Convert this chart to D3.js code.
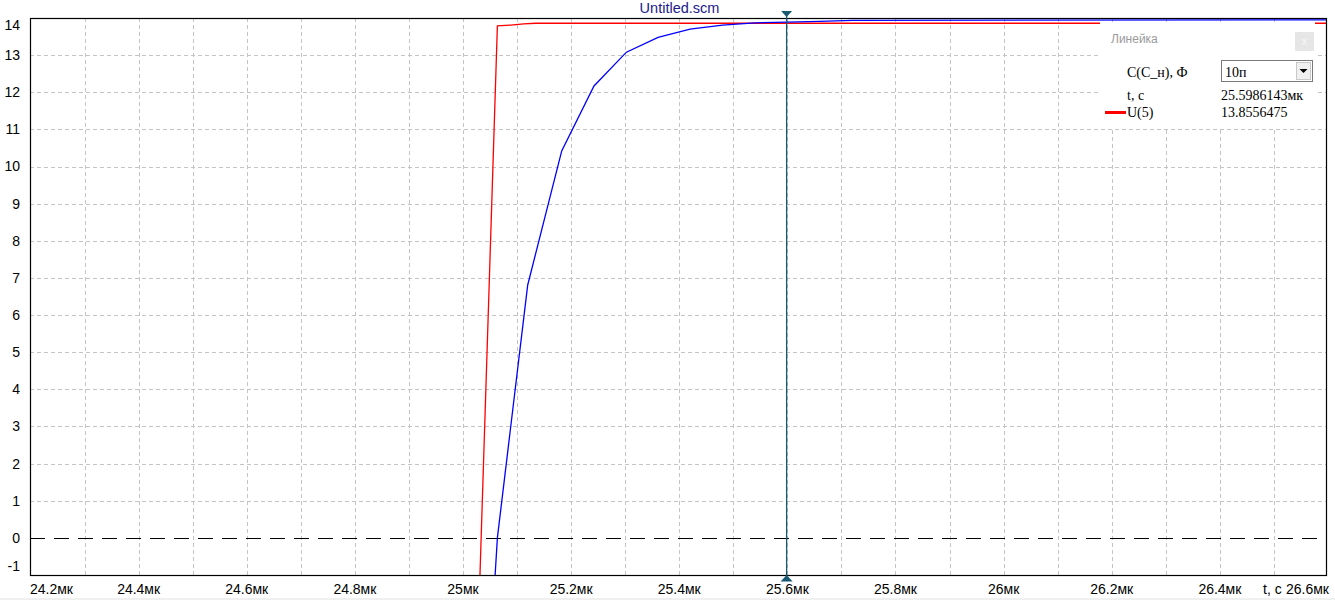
<!DOCTYPE html>
<html>
<head>
<meta charset="utf-8">
<script src="https://cdn.jsdelivr.net/npm/d3@7"></script>
<style>
  html, body { margin: 0; padding: 0; background: #fff; }
  svg { display: block; }
</style>
</head>
<body>
<svg id="chart" width="1335" height="600"></svg>
<script>
// ---------- data ----------
const titleText = "Untitled.scm";
const yTicks = [-1, 0, 1, 2, 3, 4, 5, 6, 7, 8, 9, 10, 11, 12, 13, 14];
const xLabelTicks = [24.2, 24.4, 24.6, 24.8, 25.0, 25.2, 25.4, 25.6, 25.8, 26.0, 26.2, 26.4, 26.6];
const xLabelTexts = ["24.2мк", "24.4мк", "24.6мк", "24.8мк", "25мк", "25.2мк", "25.4мк", "25.6мк", "25.8мк", "26мк", "26.2мк", "26.4мк", "26.6мк"];
const xAxisName = "t, c";

// U(5), red
const redT = [25.0303, 25.0636, 25.0882, 25.1123, 25.1345, 26.6];
const redV = [-1.5, 13.786, 13.81, 13.84, 13.858, 13.858];
// blue
const blueT = [25.0569, 25.0636, 25.1197, 25.1826, 25.2423, 25.3023, 25.3608, 25.42, 25.48, 25.54, 25.60, 25.66, 25.72, 26.6];
const blueV = [-1.6, 0.0, 6.81, 10.42, 12.17, 13.08, 13.48, 13.70, 13.81, 13.87, 13.89, 13.91, 13.935, 13.95];

const cursorT = 25.5986143;
const panelTitle = "Линейка";
const panelRows = [
  { label: "C(C_н), Ф", value: "10п" },
  { label: "t, c", value: "25.5986143мк" },
  { label: "U(5)", value: "13.8556475" }
];

// ---------- layout ----------
const svg = d3.select("#chart");
const L = 30, R = 1327, T = 18, B = 575;
const x = d3.scaleLinear().domain([24.2, 26.6]).range([L + 0.5, R + 1]);
const y = d3.scaleLinear().domain([-1, 14]).range([B, T]);

svg.append("defs").append("clipPath").attr("id", "clip")
  .append("rect").attr("x", L).attr("y", T).attr("width", R - L).attr("height", B - T);

// bottom gray band
svg.append("rect").attr("x", 0).attr("y", 598).attr("width", 1335).attr("height", 2).attr("fill", "#f0f0f0");

// grid
const gridG = svg.append("g");
const vGrid = d3.range(1, 24).map(i => 24.2 + i * 0.1);
gridG.selectAll("line.v").data(vGrid).join("line")
  .attr("x1", d => Math.round(x(d)) + 0.5).attr("x2", d => Math.round(x(d)) + 0.5)
  .attr("y1", T).attr("y2", B)
  .attr("stroke", "#c4c4c4").attr("stroke-dasharray", "4,3");
gridG.selectAll("line.h").data(yTicks.filter(d => d !== 0 && d !== -1 && d !== 14)).join("line")
  .attr("y1", d => Math.round(y(d)) + 0.5).attr("y2", d => Math.round(y(d)) + 0.5)
  .attr("x1", L).attr("x2", R)
  .attr("stroke", "#c4c4c4").attr("stroke-dasharray", "4,3");

// zero line
svg.append("line")
  .attr("x1", L).attr("x2", R)
  .attr("y1", Math.round(y(0)) + 0.5).attr("y2", Math.round(y(0)) + 0.5)
  .attr("stroke", "#000").attr("stroke-dasharray", "15,9");

// series
const line = d3.line().x(d => x(d[0])).y(d => y(d[1]));
const plotG = svg.append("g").attr("clip-path", "url(#clip)");
plotG.append("path").datum(redT.map((t, i) => [t, redV[i]]))
  .attr("d", line).attr("fill", "none").attr("stroke", "#ff0000").attr("stroke-width", 1.3);
plotG.append("path").datum(blueT.map((t, i) => [t, blueV[i]]))
  .attr("d", line).attr("fill", "none").attr("stroke", "#0000ff").attr("stroke-width", 1.3);

// border
svg.append("rect").attr("x", L + 0.5).attr("y", T + 0.5).attr("width", R - L - 1).attr("height", B - T)
  .attr("fill", "none").attr("stroke", "#000").attr("stroke-width", 1.2);

// y labels
svg.append("g").selectAll("text").data(yTicks).join("text")
  .attr("x", 20)
  .attr("y", d => d === 14 ? y(d) + 7 : (d === -1 ? y(d) - 9 : y(d)))
  .attr("dy", "0.35em")
  .attr("text-anchor", "end")
  .attr("font-family", "Liberation Sans, Arial, sans-serif")
  .attr("font-size", 14)
  .attr("fill", "#000")
  .text(d => d);

// x labels
svg.append("g").selectAll("text").data(xLabelTicks).join("text")
  .attr("x", (d, i) => i === 0 ? x(d) - 0.5 : (i === xLabelTicks.length - 1 ? x(d) + 1 : x(d)))
  .attr("y", 594)
  .attr("text-anchor", (d, i) => i === 0 ? "start" : (i === xLabelTicks.length - 1 ? "end" : "middle"))
  .attr("font-family", "Liberation Sans, Arial, sans-serif")
  .attr("font-size", 14)
  .attr("fill", "#000")
  .text((d, i) => xLabelTexts[i]);
svg.append("text").attr("x", 1263).attr("y", 594)
  .attr("font-family", "Liberation Sans, Arial, sans-serif").attr("font-size", 14).attr("fill", "#000")
  .text(xAxisName);

// title
svg.append("text").attr("x", (L + R) / 2 + 1).attr("y", 13)
  .attr("text-anchor", "middle")
  .attr("font-family", "Liberation Sans, Arial, sans-serif")
  .attr("font-size", 14.5).attr("fill", "#20208c")
  .text(titleText);

// cursor
const cx = x(cursorT);
const cursorColor = "#195a72";
svg.append("line").attr("x1", cx).attr("x2", cx).attr("y1", T - 2).attr("y2", B + 2)
  .attr("stroke", cursorColor).attr("stroke-width", 1.3);
svg.append("path").attr("d", `M${cx - 5.5},11 L${cx + 5.5},11 L${cx},17 Z`).attr("fill", cursorColor);
svg.append("path").attr("d", `M${cx - 6},581.5 L${cx + 6},581.5 L${cx},575 Z`).attr("fill", cursorColor);

// ruler panel
const pg = svg.append("g");
pg.append("rect").attr("x", 1100).attr("y", 22).attr("width", 215).attr("height", 105).attr("fill", "#fff");
pg.append("text").attr("x", 1111).attr("y", 43)
  .attr("font-family", "Liberation Sans, Arial, sans-serif").attr("font-size", 12).attr("fill", "#9a9a9a")
  .text(panelTitle);
pg.append("rect").attr("x", 1295).attr("y", 32).attr("width", 19).attr("height", 19).attr("fill", "#e6e6e6");
pg.append("text").attr("x", 1304.5).attr("y", 45).attr("text-anchor", "middle")
  .attr("font-family", "Liberation Sans, Arial, sans-serif").attr("font-size", 10).attr("fill", "#f8f8f8")
  .text("x");

const serif = "Liberation Serif, Times New Roman, serif";
const rowY = [77, 100, 117];
panelRows.forEach((r, i) => {
  pg.append("text").attr("x", 1127).attr("y", rowY[i])
    .attr("font-family", serif).attr("font-size", 14).attr("fill", "#000").text(r.label);
  if (i === 0) {
    pg.append("rect").attr("x", 1221.5).attr("y", 60.5).attr("width", 91).attr("height", 21)
      .attr("fill", "#fff").attr("stroke", "#7a7a7a");
    pg.append("rect").attr("x", 1296.5).attr("y", 62.5).attr("width", 14).attr("height", 17)
      .attr("fill", "#f0f0f0").attr("stroke", "#c8c8c8");
    pg.append("path").attr("d", "M1299.5,69 L1307.5,69 L1303.5,73 Z").attr("fill", "#000");
    pg.append("text").attr("x", 1225).attr("y", 77)
      .attr("font-family", serif).attr("font-size", 14).attr("fill", "#000").text(r.value);
  } else {
    pg.append("text").attr("x", 1221).attr("y", rowY[i])
      .attr("font-family", serif).attr("font-size", 14).attr("fill", "#000").text(r.value);
  }
});
pg.append("line").attr("x1", 1105).attr("x2", 1126).attr("y1", 112.5).attr("y2", 112.5)
  .attr("stroke", "#ff0000").attr("stroke-width", 3);
</script>
</body>
</html>
